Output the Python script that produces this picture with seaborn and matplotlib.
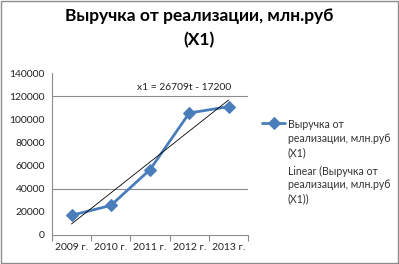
import numpy as np
import pandas as pd
import seaborn as sns
import matplotlib
matplotlib.use("Agg")
import matplotlib.pyplot as plt
from matplotlib.patches import Rectangle

categories = ["2009 г.", "2010 г.", "2011 г.", "2012 г.", "2013 г."]
values = [17000, 25500, 56500, 105500, 111000]
series_name = "Выручка от\nреализации, млн.руб\n(X1)"
trend_name = "Linear (Выручка от\nреализации, млн.руб\n(X1))"
title = "Выручка от реализации, млн.руб\n(X1)"
equation = "x1 = 26709t - 17200"
yticks = [0, 20000, 40000, 60000, 80000, 100000, 120000, 140000]
gridlines = [40000, 120000]

sns.set_theme(style="white")
plt.rcParams['font.family'] = ['Lato', 'DejaVu Sans']

fig = plt.figure(figsize=(3.99, 2.64), dpi=100)
ax = fig.add_axes([0.130, 0.110, 0.492, 0.613])

df = pd.DataFrame({"cat": categories, "x": np.arange(len(categories)), "val": values})

blue = "#4A7EBB"
sns.lineplot(data=df, x="x", y="val", ax=ax, color=blue, lw=2.0, marker="D",
             markersize=6, markeredgecolor=blue, label=series_name)

t = np.arange(1, len(values) + 1)
k, b = np.polyfit(t, values, 1)
tx = np.array([t[0], t[-1]])
ax.plot(tx - 1, k * tx + b, color="black", lw=0.6, label=trend_name)

for g in gridlines:
    ax.axhline(g, color="#8C8C8C", lw=0.8, zorder=0)

ax.set_xlim(-0.5, len(categories) - 0.5)
ax.set_ylim(0, 140000)
ax.set_yticks(yticks)
ax.set_yticklabels([str(v) for v in yticks], fontsize=7.5, color="#222222")
ax.set_xticks(np.arange(len(categories)))
ax.set_xticklabels(categories, fontsize=7.5, color="#222222")
ax.set_xticks(np.arange(len(categories) + 1) - 0.5, minor=True)
ax.tick_params(axis="x", which="major", length=0, pad=6)
ax.tick_params(axis="x", which="minor", length=4, color="#8C8C8C", width=0.8, direction="out", bottom=True)
ax.tick_params(axis="y", length=0, pad=5)
ax.set_xlabel("")
ax.set_ylabel("")
for s in ["top", "right"]:
    ax.spines[s].set_visible(False)
for s in ["left", "bottom"]:
    ax.spines[s].set_color("#8C8C8C")
    ax.spines[s].set_linewidth(0.8)

ax.text(1.67, 124000, equation, fontsize=7.4, color="#222222", ha="left", va="bottom")

leg = ax.legend(loc="upper left", bbox_to_anchor=(1.05, 0.74), frameon=False,
                fontsize=7.6, handlelength=2.2, handletextpad=0.2, labelspacing=0.75,
                borderaxespad=0)
for txt in leg.get_texts():
    txt.set_color("#333333")
    txt.set_linespacing(1.3)
leg.get_lines()[1].set_visible(False)
for col in leg._legend_handle_box.get_children():
    for row in col.get_children():
        row.align = "top"

fig.text(0.5, 0.893, title, ha="center", va="center", fontsize=12.5, fontweight="bold",
         color="black", linespacing=1.6)

fig.patches.append(Rectangle((0.002, 0.004), 0.995, 0.992, transform=fig.transFigure,
                             fill=False, edgecolor="#8C8C8C", lw=1.0))

fig.savefig("out.png", dpi=100)
